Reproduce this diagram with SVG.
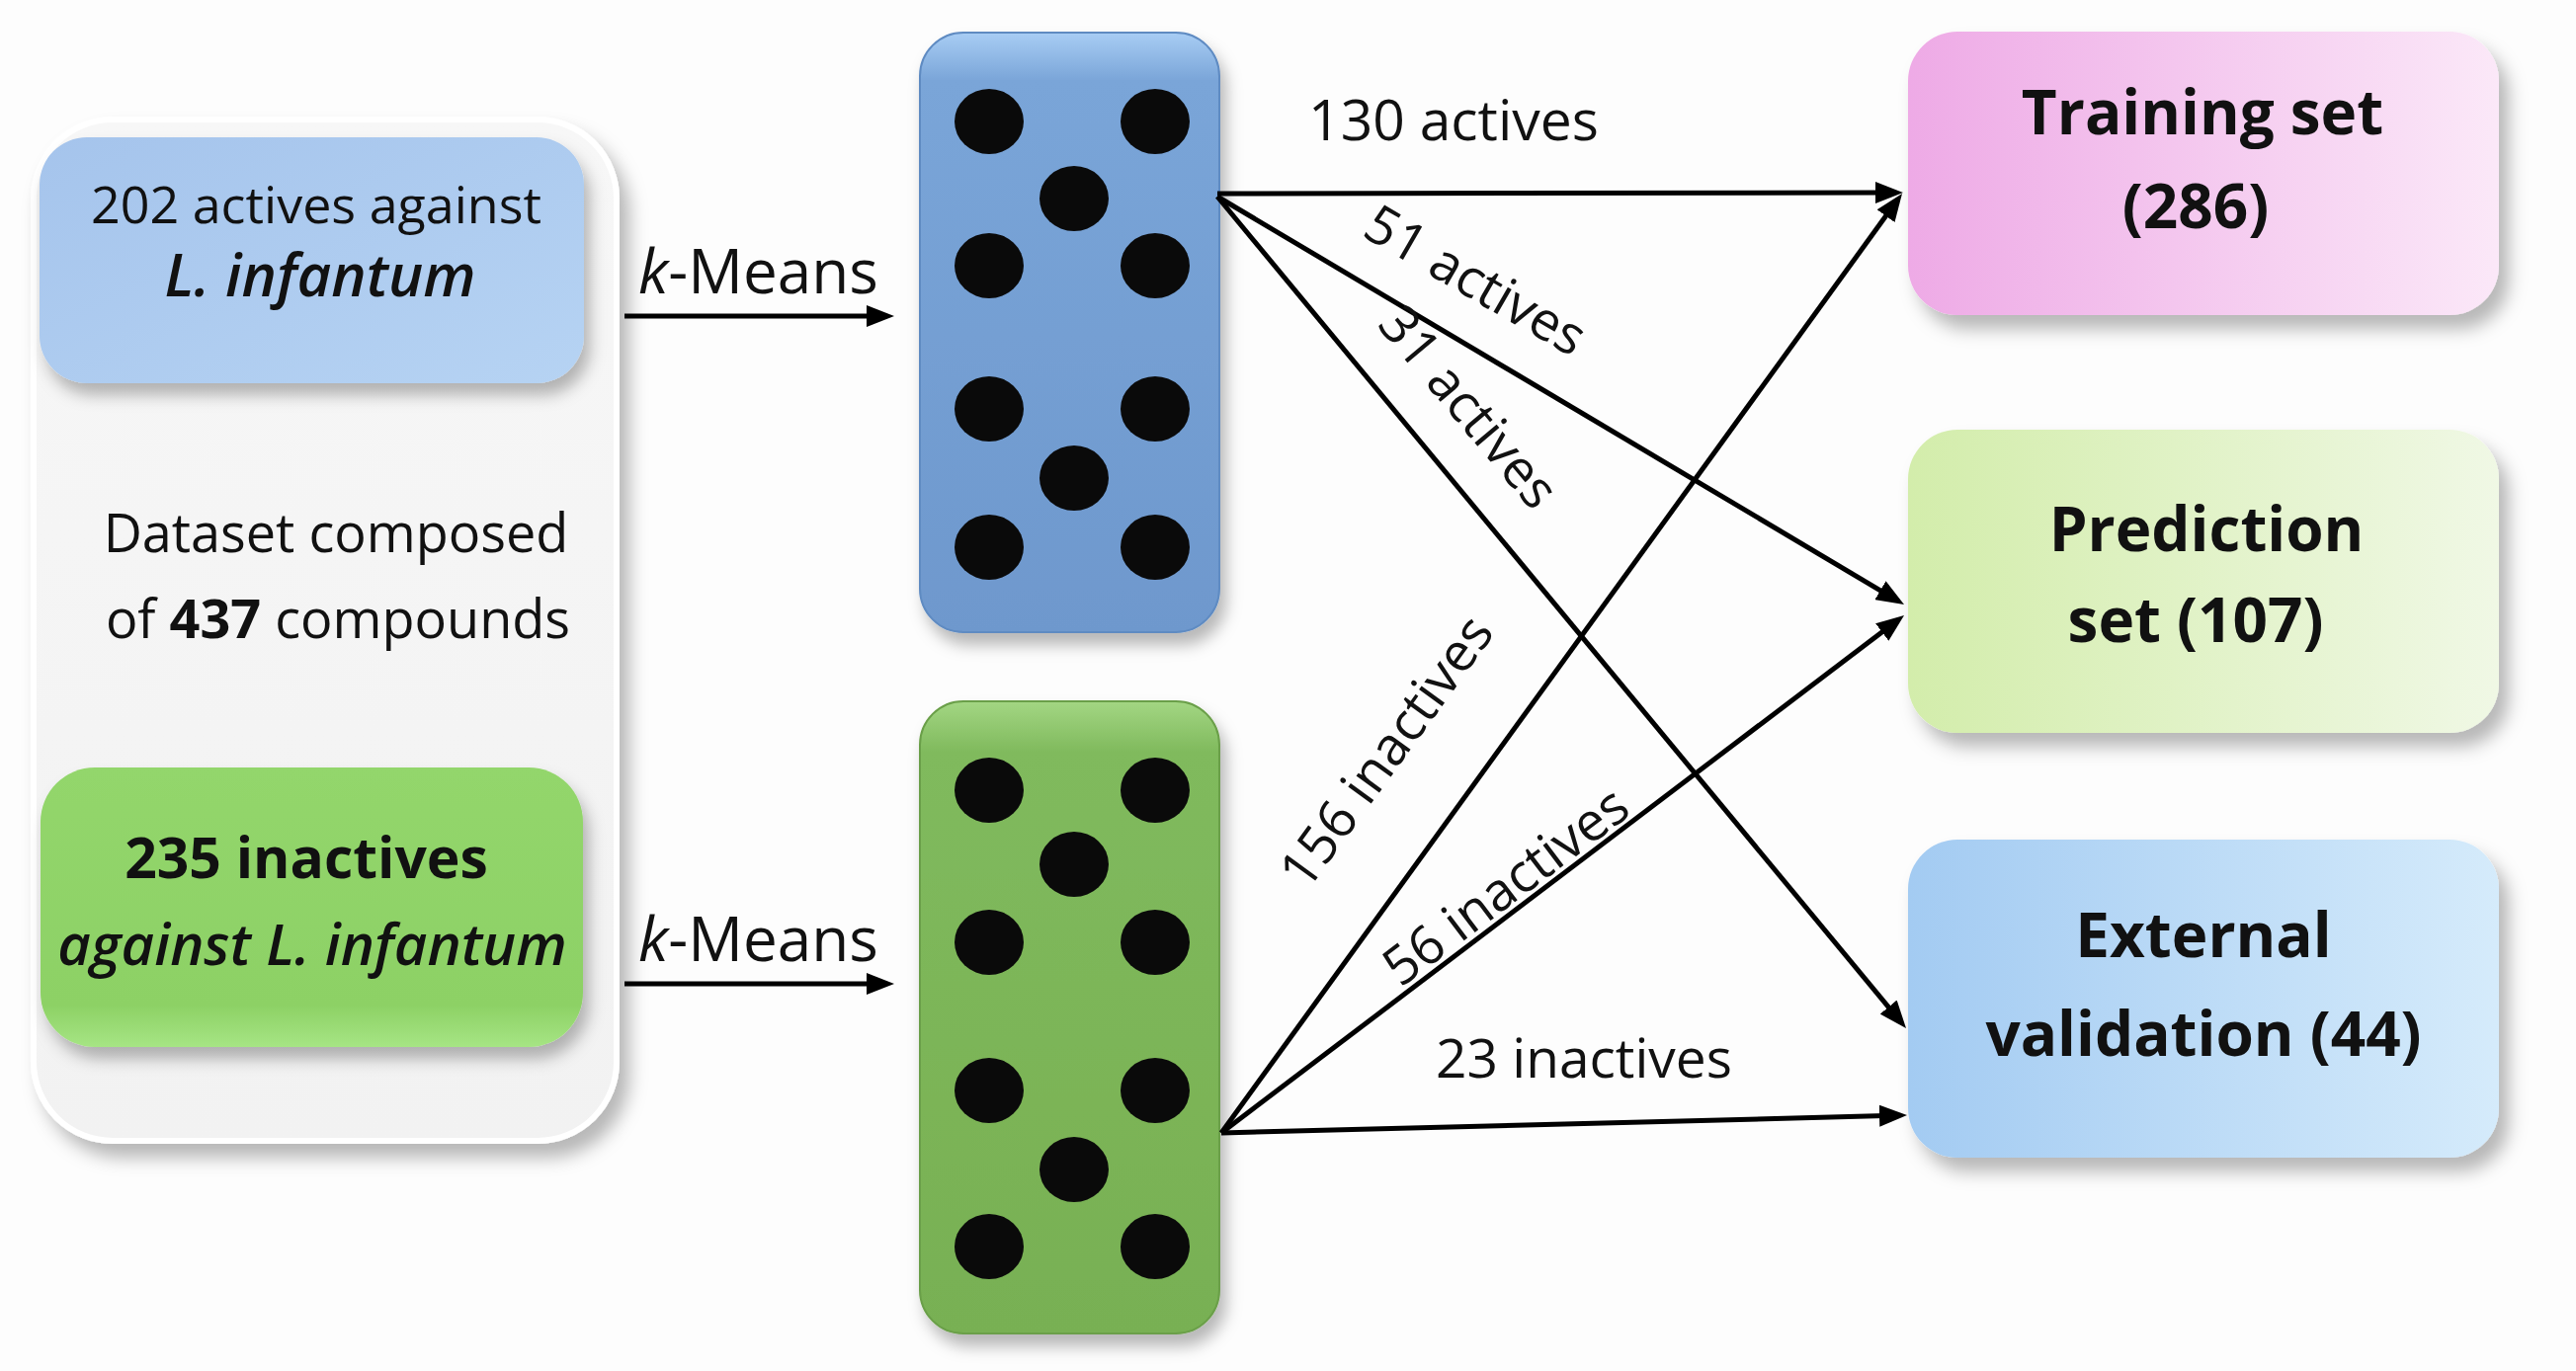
<svg xmlns="http://www.w3.org/2000/svg" width="2607" height="1388" viewBox="0 0 2607 1388">
<style>
  text { font-family: "Open Sans", "Noto Sans", "Liberation Sans", sans-serif; fill: #111; }
  .lbl { font-size: 54px; }
  .ttl { font-size: 62px; font-weight: bold; text-anchor: middle; }
  .mid { text-anchor: middle; }
  .conn { stroke: #000; stroke-width: 5; fill: none; marker-end: url(#ah); }
  .dot { fill: #0a0a0a; }
</style>
<defs>
  <marker id="ah" markerUnits="userSpaceOnUse" markerWidth="28" markerHeight="22" refX="6" refY="11" orient="auto" viewBox="0 0 28 22">
    <path d="M0,0 L28,11 L0,22 z" fill="#000"/>
  </marker>
  <filter id="sh" x="-10%" y="-10%" width="125%" height="130%">
    <feDropShadow dx="10" dy="14" stdDeviation="9" flood-color="#000" flood-opacity="0.28"/>
  </filter>
  <filter id="sh2" x="-10%" y="-10%" width="125%" height="130%">
    <feDropShadow dx="6" dy="12" stdDeviation="8" flood-color="#000" flood-opacity="0.28"/>
  </filter>
  <linearGradient id="gOuter" x1="0" y1="0" x2="0" y2="1">
    <stop offset="0" stop-color="#f7f7f7"/>
    <stop offset="1" stop-color="#f2f2f2"/>
  </linearGradient>
  <linearGradient id="gBlueIn" x1="0" y1="0" x2="1" y2="1">
    <stop offset="0" stop-color="#a5c4ec"/>
    <stop offset="1" stop-color="#b6d3f3"/>
  </linearGradient>
  <linearGradient id="gGreenIn" x1="0" y1="0" x2="0" y2="1">
    <stop offset="0" stop-color="#93d66c"/>
    <stop offset="0.85" stop-color="#8dd165"/>
    <stop offset="1" stop-color="#a6e584"/>
  </linearGradient>
  <linearGradient id="gBlueCl" x1="0" y1="0" x2="0" y2="1">
    <stop offset="0" stop-color="#a8cdf4"/>
    <stop offset="0.08" stop-color="#7aa5d8"/>
    <stop offset="1" stop-color="#6e98cd"/>
  </linearGradient>
  <linearGradient id="gGreenCl" x1="0" y1="0" x2="0" y2="1">
    <stop offset="0" stop-color="#a3d683"/>
    <stop offset="0.08" stop-color="#80ba5d"/>
    <stop offset="1" stop-color="#78b053"/>
  </linearGradient>
  <linearGradient id="gTrain" x1="0" y1="0" x2="1" y2="0">
    <stop offset="0" stop-color="#eeaae6"/>
    <stop offset="1" stop-color="#fbe8f8"/>
  </linearGradient>
  <linearGradient id="gPred" x1="0" y1="0" x2="1" y2="0">
    <stop offset="0" stop-color="#d3edab"/>
    <stop offset="1" stop-color="#f0f8e5"/>
  </linearGradient>
  <linearGradient id="gExt" x1="0" y1="0" x2="1" y2="0">
    <stop offset="0" stop-color="#a3cbf2"/>
    <stop offset="1" stop-color="#d5ebfb"/>
  </linearGradient>
</defs>

<rect x="0" y="0" width="2607" height="1388" fill="#fdfdfd"/>

<g id="dataset">
  <rect x="34" y="121" width="590" height="1034" rx="80" ry="80" fill="url(#gOuter)" stroke="#ffffff" stroke-width="6" filter="url(#sh)"/>
  <text class="mid" x="340" y="559" font-size="54">Dataset composed</text>
  <text class="mid" x="342" y="646" font-size="54">of <tspan font-weight="bold">437</tspan> compounds</text>
</g>

<g id="actives">
  <rect x="40" y="139" width="551" height="249" rx="48" ry="48" fill="url(#gBlueIn)" filter="url(#sh2)"/>
  <text class="mid" x="320" y="226" font-size="52">202 actives against</text>
  <text class="mid" x="324" y="300" font-size="60" font-style="italic" font-weight="600">L. infantum</text>
</g>

<g id="inactives">
  <rect x="41" y="777" width="549" height="283" rx="55" ry="55" fill="url(#gGreenIn)" filter="url(#sh2)"/>
  <text class="mid" x="310" y="889" font-size="57" font-weight="bold">235 inactives</text>
  <text class="mid" x="316" y="977" font-size="58" font-style="italic" font-weight="600">against L. infantum</text>
</g>

<g id="cluster-actives">
  <rect x="931" y="33" width="303" height="607" rx="44" ry="44" fill="url(#gBlueCl)" stroke="#5f8bc2" stroke-width="2" filter="url(#sh2)"/>
  <ellipse class="dot" cx="1001" cy="123" rx="35" ry="33"/>
  <ellipse class="dot" cx="1169" cy="123" rx="35" ry="33"/>
  <ellipse class="dot" cx="1087" cy="201" rx="35" ry="33"/>
  <ellipse class="dot" cx="1001" cy="269" rx="35" ry="33"/>
  <ellipse class="dot" cx="1169" cy="269" rx="35" ry="33"/>
  <ellipse class="dot" cx="1001" cy="414" rx="35" ry="33"/>
  <ellipse class="dot" cx="1169" cy="414" rx="35" ry="33"/>
  <ellipse class="dot" cx="1087" cy="484" rx="35" ry="33"/>
  <ellipse class="dot" cx="1001" cy="554" rx="35" ry="33"/>
  <ellipse class="dot" cx="1169" cy="554" rx="35" ry="33"/>
</g>

<g id="cluster-inactives">
  <rect x="931" y="710" width="303" height="640" rx="44" ry="44" fill="url(#gGreenCl)" stroke="#6a9f48" stroke-width="2" filter="url(#sh2)"/>
  <ellipse class="dot" cx="1001" cy="800" rx="35" ry="33"/>
  <ellipse class="dot" cx="1169" cy="800" rx="35" ry="33"/>
  <ellipse class="dot" cx="1087" cy="875" rx="35" ry="33"/>
  <ellipse class="dot" cx="1001" cy="954" rx="35" ry="33"/>
  <ellipse class="dot" cx="1169" cy="954" rx="35" ry="33"/>
  <ellipse class="dot" cx="1001" cy="1104" rx="35" ry="33"/>
  <ellipse class="dot" cx="1169" cy="1104" rx="35" ry="33"/>
  <ellipse class="dot" cx="1087" cy="1184" rx="35" ry="33"/>
  <ellipse class="dot" cx="1001" cy="1262" rx="35" ry="33"/>
  <ellipse class="dot" cx="1169" cy="1262" rx="35" ry="33"/>
</g>

<g id="training">
  <rect x="1931" y="32" width="598" height="287" rx="50" ry="50" fill="url(#gTrain)" filter="url(#sh)"/>
  <text class="ttl" x="2229" y="136">Training set</text>
  <text class="ttl" x="2222" y="231">(286)</text>
</g>

<g id="prediction">
  <rect x="1931" y="435" width="598" height="307" rx="50" ry="50" fill="url(#gPred)" filter="url(#sh)"/>
  <text class="ttl" x="2233" y="558">Prediction</text>
  <text class="ttl" x="2222" y="650">set (107)</text>
</g>

<g id="external">
  <rect x="1931" y="850" width="598" height="322" rx="50" ry="50" fill="url(#gExt)" filter="url(#sh)"/>
  <text class="ttl" x="2230" y="969">External</text>
  <text class="ttl" x="2230" y="1069">validation (44)</text>
</g>

<g id="connectors">
  <line class="conn" x1="632" y1="320" x2="883" y2="320"/>
  <line class="conn" x1="632" y1="996" x2="883" y2="996"/>
  <line class="conn" x1="1232" y1="196" x2="1904" y2="195"/>
  <line class="conn" x1="1232" y1="199" x2="1908.1" y2="600.8"/>
  <line class="conn" x1="1232" y1="199" x2="1915" y2="1024.1"/>
  <line class="conn" x1="1236" y1="1147" x2="1912.1" y2="213.8"/>
  <line class="conn" x1="1236" y1="1147" x2="1909.5" y2="636.3"/>
  <line class="conn" x1="1236" y1="1147" x2="1908" y2="1129.6"/>
</g>

<g id="labels">
  <text x="646" y="297" font-size="62"><tspan font-style="italic">k</tspan>-Means</text>
  <text x="646" y="973" font-size="62"><tspan font-style="italic">k</tspan>-Means</text>
  <text class="mid" x="1471" y="142" font-size="57">130 actives</text>
  <text class="lbl mid" transform="translate(1484,300) rotate(30)">51 actives</text>
  <text class="lbl mid" transform="translate(1472,424) rotate(50)">31 actives</text>
  <text class="lbl mid" transform="translate(1418,772) rotate(-54)">156 inactives</text>
  <text class="lbl mid" transform="translate(1535,912) rotate(-37)">56 inactives</text>
  <text class="mid" x="1603" y="1091" font-size="55">23 inactives</text>
</g>
</svg>
